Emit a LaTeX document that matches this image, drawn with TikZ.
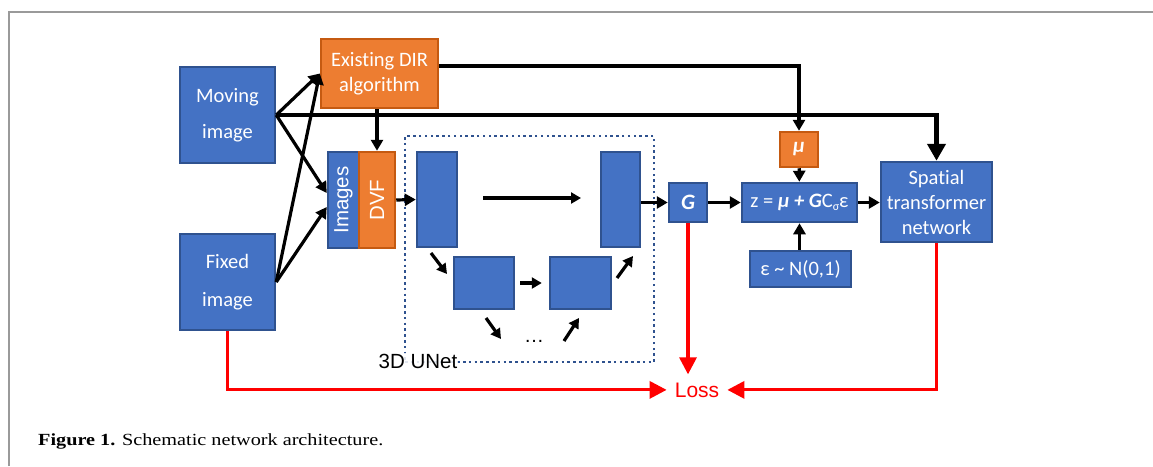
\documentclass[tikz,border=0pt]{standalone}
\usepackage{fontspec}
\setmainfont{Carlito}[Ligatures=NoCommon]
\newfontfamily\arial{Liberation Sans}
\newfontfamily\capserif{Liberation Serif}
\usetikzlibrary{arrows.meta}
\definecolor{boxblue}{HTML}{4472C4}
\definecolor{boxblueline}{HTML}{2F528F}
\definecolor{boxorange}{HTML}{ED7D31}
\definecolor{boxorangeline}{HTML}{C55A11}
\definecolor{lossred}{HTML}{FF0000}
\definecolor{framegray}{HTML}{9A9A9A}

\begin{document}
\begin{tikzpicture}[x=1pt,y=-1pt,
  bbox/.style={draw=boxblueline, fill=boxblue, line width=2.5pt, text=white, inner sep=0pt,
    align=center, font=\fontsize{20.5}{25}\selectfont},
  obox/.style={bbox, draw=boxorangeline, fill=boxorange},
  arr/.style={draw=black, line width=3.2pt, -{Triangle[length=11pt,width=12pt]}},
  smallarr/.style={draw=black, line width=3.2pt, -{Triangle[length=10pt,width=11pt]}},
  thickarr/.style={draw=black, line width=4.8pt, -{Triangle[length=17pt,width=18pt]}},
  lossarr/.style={draw=lossred, line width=3.2pt, -{Triangle[length=17pt,width=17pt]}},
]
\useasboundingbox (0,0) rectangle (1153,466);
\draw[framegray, line width=1.5pt] (9,466) -- (9,12) -- (1153,12);

% inputs and registration
\node[bbox, minimum width=95, minimum height=96, font=\fontsize{20.5}{36}\selectfont] (mov) at (227.5,115) {Moving\\image};
\node[bbox, minimum width=95, minimum height=96, font=\fontsize{20.5}{38}\selectfont] (fix) at (227.5,282) {Fixed\\image};
\node[obox, minimum width=117, minimum height=69] (dir) at (379.5,73.5) {Existing DIR\\algorithm};
\node[bbox, minimum width=31, minimum height=96, font=\arial\fontsize{20.5}{25}\selectfont] (img) at (343.5,200) {\rotatebox{90}{Images}};
\node[obox, minimum width=36, minimum height=96, font=\arial\fontsize{20.5}{25}\selectfont] (dvf) at (377,200) {\rotatebox{90}{DVF}};

% 3D UNet
\node[draw=boxblueline, line width=2.5pt, dash pattern=on 2.5pt off 3.3pt, minimum width=249, minimum height=226, inner sep=0pt] (unet) at (529.5,249) {};
\node[bbox, minimum width=40, minimum height=95] (u1) at (437,199.5) {};
\node[bbox, minimum width=39, minimum height=95] (u4) at (620.5,199.5) {};
\node[bbox, minimum width=60, minimum height=52] (u2) at (484,283) {};
\node[bbox, minimum width=61, minimum height=52] (u3) at (580.5,283) {};
\node[font=\arial\fontsize{20}{24}\selectfont, inner sep=0pt] (dots) at (534,341) {…};
\node[fill=white, fill opacity=0.85, text opacity=1, inner sep=1pt, anchor=base, font=\arial\fontsize{20.5}{25}\selectfont] (unetlabel) at (418,368) {3D UNet};

\coordinate (skipa) at (483,198);
\coordinate (skipb) at (581,198);
\coordinate (d1a) at (431,253);
\coordinate (d1b) at (447,274);
\coordinate (d2a) at (486,318);
\coordinate (d2b) at (501,339);
\coordinate (p2a) at (564,341);
\coordinate (p2b) at (579,318);
\coordinate (p1a) at (617,278);
\coordinate (p1b) at (633,256);
\draw[smallarr] (skipa) -- (skipb);
\draw[smallarr] (d1a) -- (d1b);
\draw[smallarr] (d2a) -- (d2b);
\draw[smallarr] (p2a) -- (p2b);
\draw[smallarr] (p1a) -- (p1b);
\draw[smallarr, shorten <=5pt, shorten >=7pt] (u2) -- (u3);

% sampling and warping
\node[bbox, minimum width=38, minimum height=39, font=\bfseries\itshape\fontsize{22}{25}\selectfont] (g) at (688,202.5) {G};
\node[bbox, minimum width=115, minimum height=39] (z) at (799.5,202.5) {z = {\bfseries\itshape μ + G}C\raisebox{-0.35ex}{\fontsize{12}{12}\selectfont σ}ε};
\node[obox, minimum width=38, minimum height=35, font=\bfseries\itshape\fontsize{21}{25}\selectfont] (mu) at (799,149.5) {μ};
\node[bbox, minimum width=101, minimum height=36] (eps) at (800.5,269) {ε \textasciitilde{} N(0,1)};
\node[bbox, minimum width=111, minimum height=80] (stn) at (936.5,202) {Spatial\\transformer\\network};
\node[text=lossred, font=\arial\fontsize{21}{25}\selectfont, inner xsep=8pt, inner ysep=8pt, anchor=base] (loss) at (697,397) {Loss};

% connectors
\draw[thickarr] (mov.east) -- (stn.north |- mov.east) -- (stn.north);
\draw[arr] (mov.east) -- (dir.west);
\draw[arr] (fix.east) -- (dir.west);
\draw[arr] (mov.east) -- ([yshift=7pt]img.west);
\draw[arr] (fix.east) -- ([yshift=-7pt]img.west);
\draw[arr] (dir.south -| dvf.north) -- (dvf.north);
\draw[arr] ([yshift=7.5pt]dir.east) -| (mu.north);
\draw[arr] (dvf.east) -- (u1.west);
\draw[arr] (u4.east |- g.west) -- (g.west);
\draw[arr] (g) -- (z);
\draw[arr] (mu) -- (z);
\draw[arr] (z.south |- eps.north) -- (z.south);
\draw[arr] (z.east) -- (z.east -| stn.west);

% loss terms
\draw[lossarr] (fix.south) |- (loss.west);
\draw[lossarr] (g.south) -- (g.south |- loss.north);
\draw[lossarr] (stn.south) |- (loss.east);

% caption
\node[anchor=base west, inner sep=0pt, font=\capserif\fontsize{17}{20}\selectfont] (caption) at (38,445) {\scalebox{1.19}[1]{\textbf{Figure 1.} Schematic network architecture.}};
\end{tikzpicture}
\end{document}
